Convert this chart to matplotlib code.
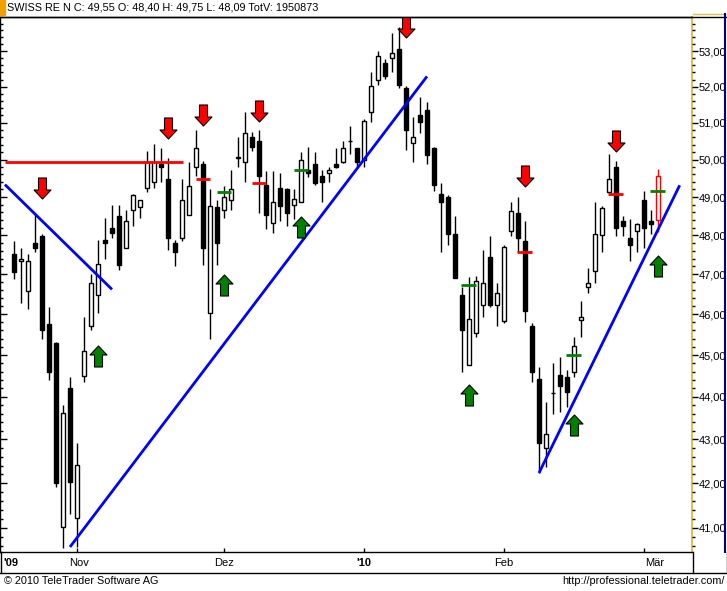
import numpy as np
import matplotlib
matplotlib.use('Agg')
import matplotlib.pyplot as plt
from matplotlib.path import Path
from matplotlib.ticker import MultipleLocator, FuncFormatter, NullFormatter
from matplotlib.lines import Line2D
from matplotlib.patches import Rectangle

plt.rcParams['font.family'] = ['Liberation Sans', 'DejaVu Sans']

# ---------------- data (daily OHLC, SWISS RE N, Oct 2009 - Mar 2010) ----------------
opens = [47.51, 47.33, 46.59, 47.81, 47.99, 45.77, 45.30, 41.02, 44.22, 41.22,
         44.50, 45.72, 46.47, 47.89, 48.20, 48.49, 47.68, 48.67, 48.73, 49.23,
         49.41, 49.87, 49.49, 47.81, 47.92, 48.54, 49.79, 49.89, 46.04, 48.73,
         48.65, 48.93, 50.03, 49.92, 50.60, 50.49, 49.31, 48.31, 49.25, 49.20,
         48.80, 48.88, 49.71, 49.87, 49.57, 49.65, 49.89, 49.92, 50.49, 50.30,
         50.00, 51.29, 52.18, 52.66, 52.80, 53.06, 51.95, 50.44, 51.20, 51.34,
         50.30, 49.09, 49.01, 48.04, 46.49, 44.77, 45.55, 46.24, 47.43, 46.24,
         45.84, 48.10, 48.59, 47.86, 45.72, 44.43, 42.81, 44.10, 44.53, 44.48,
         44.58, 45.87, 46.67, 47.09, 48.02, 49.12, 49.81, 48.38, 47.92, 48.12,
         48.91, 48.38, 48.40]
highs = [47.86, 47.68, 47.51, 48.54, 48.04, 46.19, 45.32, 43.81, 44.48, 42.92,
         45.94, 47.02, 47.89, 48.46, 48.78, 48.78, 48.67, 49.07, 48.93, 50.22,
         50.41, 50.30, 50.05, 47.89, 49.47, 49.92, 50.79, 49.95, 49.20, 48.93,
         49.28, 49.73, 50.60, 51.29, 50.76, 50.79, 49.68, 49.68, 49.65, 49.25,
         49.20, 50.19, 50.33, 50.19, 49.73, 49.81, 50.30, 50.49, 50.90, 50.32,
         51.09, 52.41, 53.00, 52.77, 53.54, 53.69, 52.01, 51.15, 51.70, 51.56,
         50.35, 49.36, 49.04, 48.49, 46.69, 46.94, 46.97, 47.63, 47.99, 46.79,
         47.74, 48.88, 49.01, 48.38, 45.79, 44.70, 43.88, 44.82, 44.96, 44.63,
         45.45, 46.34, 47.15, 48.86, 48.75, 50.16, 49.95, 48.49, 48.41, 48.33,
         49.17, 48.65, 49.75]
lows = [46.89, 46.29, 46.12, 47.56, 45.38, 44.41, 41.92, 40.56, 41.31, 40.58,
        44.34, 45.62, 46.04, 47.38, 47.92, 47.12, 47.66, 48.25, 48.44, 49.12,
        49.25, 49.41, 47.63, 47.22, 47.84, 48.52, 49.55, 47.25, 45.40, 47.25,
        48.46, 48.67, 49.79, 49.39, 50.22, 48.59, 48.15, 48.07, 48.38, 48.25,
        48.41, 48.86, 49.52, 49.33, 48.86, 49.39, 49.78, 49.90, 50.16, 49.79,
        49.81, 51.01, 52.04, 52.21, 52.41, 51.95, 50.27, 49.92, 50.71, 49.87,
        49.15, 47.58, 47.76, 46.90, 44.58, 44.75, 45.43, 45.92, 46.19, 45.70,
        45.79, 47.99, 47.58, 45.82, 44.36, 42.23, 42.37, 43.60, 43.65, 43.77,
        44.48, 45.45, 46.54, 46.77, 47.58, 49.10, 47.97, 47.97, 47.35, 47.58,
        47.68, 48.04, 48.09]
closes = [47.07, 47.40, 47.33, 47.66, 45.62, 44.58, 42.00, 43.62, 42.03, 42.42,
          45.11, 46.77, 47.27, 47.81, 48.07, 47.25, 48.38, 49.04, 48.93, 49.92,
          49.92, 49.79, 47.92, 47.56, 48.93, 49.28, 50.30, 47.66, 48.75, 47.79,
          49.01, 49.20, 50.08, 50.71, 50.33, 49.57, 48.52, 48.86, 48.75, 48.57,
          48.96, 50.00, 49.65, 49.36, 49.39, 49.71, 49.81, 50.30, 50.49, 49.92,
          51.06, 52.01, 52.86, 52.29, 52.94, 52.04, 50.79, 50.60, 51.01, 50.11,
          49.31, 48.86, 48.04, 46.92, 45.60, 45.89, 46.82, 46.79, 46.22, 46.52,
          47.71, 48.62, 47.92, 46.07, 44.58, 42.92, 43.13, 44.10, 44.26, 44.12,
          45.21, 45.92, 46.77, 48.04, 48.70, 49.49, 48.18, 48.23, 47.74, 48.28,
          48.18, 48.28, 49.55]

title_text = "SWISS RE N C: 49,55 O: 48,40 H: 49,75 L: 48,09 TotV: 1950873"
month_labels = ["'09", "Nov", "Dez", "'10", "Feb", "Mär"]
month_label_pos = [-0.4, 9.3, 30.0, 50.0, 70.0, 91.5]
month_tick_pos = [9, 30, 50, 70, 90]

# signals
sell_arrow_idx = [4, 22, 27, 35, 56, 73, 86]
sell_arrow_price = [49.25, 50.86, 51.21, 51.32, 53.69, 49.57, 50.49]
buy_arrow_idx = [12, 30, 41, 65, 80, 92]
buy_arrow_price = [44.98, 46.74, 48.21, 44.05, 43.33, 47.22]
red_dash_idx = [27, 35, 73, 86]
red_dash_price = [49.49, 49.36, 47.56, 49.09]
green_dash_idx = [30, 41, 65, 80, 92]
green_dash_price = [49.12, 49.73, 46.74, 44.99, 49.17]

# drawn lines (index0, price0, index1, price1)
resistance_line = (-1.3, 49.92, 24.1, 49.92)
trend_lines = [(-1.3, 49.33, 14.0, 46.62),
               (8.0, 40.58, 59.0, 52.29),
               (75.0, 42.23, 95.1, 49.31)]

# ---------------- figure ----------------
W, H = 727, 591
fig = plt.figure(figsize=(W / 100, H / 100), dpi=100)
fig.patch.set_facecolor('white')

def fx(x):
    return x / W

def fy(y):
    return 1 - y / H

PLOT_L, PLOT_R, PLOT_T, PLOT_B = 0, 692, 17, 552
ax = fig.add_axes([fx(PLOT_L), fy(PLOT_B), (PLOT_R - PLOT_L) / W, (PLOT_B - PLOT_T) / H])
ax.set_yscale('log')
ax.set_ylim(40.47, 53.99)
ax.set_xlim(-2.0, 96.86)
ax.set_facecolor('white')

n = len(opens)
x = np.arange(n)
o = np.array(opens); h = np.array(highs); l = np.array(lows); c = np.array(closes)

last = n - 1
wick_colors = ['black'] * n
wick_colors[last] = '#ff0000'
ax.vlines(x, l, h, colors=wick_colors, linewidth=1.0, zorder=2)

up = c >= o
bottoms = np.minimum(o, c)
heights = np.abs(c - o)
faces = ['white' if u else 'black' for u in up]
edges = ['black'] * n
edges[last] = '#ff0000'
ax.bar(x, heights, bottom=bottoms, width=0.6, color=faces, edgecolor=edges,
       linewidth=1.0, zorder=3)

# resistance line
ax.plot([resistance_line[0], resistance_line[2]], [resistance_line[1], resistance_line[3]],
        color='#ff0000', lw=2.0, zorder=4, solid_capstyle='butt')
for (a0, p0, a1, p1) in trend_lines:
    ax.plot([a0, a1], [p0, p1], color='#0000ff', lw=2.0, zorder=4, solid_capstyle='butt')

# dashes
ax.hlines(red_dash_price, np.array(red_dash_idx) - 1.07, np.array(red_dash_idx) + 1.07,
          colors='#ff0000', lw=2.0, zorder=5)
ax.hlines(green_dash_price, np.array(green_dash_idx) - 1.07, np.array(green_dash_idx) + 1.07,
          colors='#008000', lw=2.0, zorder=5)

# arrow markers
down_verts = [(-4, 10.5), (4, 10.5), (4, -1.5), (8.5, -1.5), (0, -10.5), (-8.5, -1.5),
              (-4, -1.5), (-4, 10.5)]
down_path = Path(down_verts, [Path.MOVETO] + [Path.LINETO] * 6 + [Path.CLOSEPOLY])
up_path = Path([(vx, -vy) for vx, vy in down_verts], [Path.MOVETO] + [Path.LINETO] * 6 + [Path.CLOSEPOLY])
ms = 21 * 72 / 100
ax.plot(sell_arrow_idx, sell_arrow_price, linestyle='none', marker=down_path, ms=ms,
        mfc='#ff0000', mec='black', mew=0.8, zorder=6)
ax.plot(buy_arrow_idx, buy_arrow_price, linestyle='none', marker=up_path, ms=ms,
        mfc='#008000', mec='black', mew=0.8, zorder=6)

# y axis ticks (left inside)
ax.yaxis.set_major_locator(MultipleLocator(1))
ax.yaxis.set_minor_locator(MultipleLocator(0.2))
ax.yaxis.set_major_formatter(NullFormatter())
ax.yaxis.set_minor_formatter(NullFormatter())
ax.tick_params(axis='y', which='major', direction='in', length=5, width=1, left=True, right=False)
ax.tick_params(axis='y', which='minor', direction='in', length=2, width=1, left=True, right=False)

# x ticks
ax.set_xticks(month_tick_pos)
ax.set_xticklabels([])
ax.tick_params(axis='x', which='major', direction='in', length=3, width=1, bottom=True, top=False)
ax.tick_params(axis='x', which='minor', bottom=False, top=False)

for lab, pos in zip(month_labels, month_label_pos):
    bold = lab.startswith("'")
    ax.text(pos, -0.021, lab, transform=ax.get_xaxis_transform(), ha='center', va='center',
            fontsize=8.0, fontweight='bold' if bold else 'normal', color='black', clip_on=False)

# right axis
ax2 = ax.twinx()
ax2.set_yscale('log')
ax2.set_ylim(ax.get_ylim())
ax2.yaxis.set_major_locator(MultipleLocator(1))
ax2.yaxis.set_minor_locator(MultipleLocator(0.2))
ax2.yaxis.set_major_formatter(FuncFormatter(lambda v, p: f"{v:.2f}".replace('.', ',')))
ax2.yaxis.set_minor_formatter(NullFormatter())
ax2.tick_params(axis='y', which='major', direction='out', length=4, width=1, pad=1,
                labelsize=8.0, right=True, left=False)
ax2.tick_params(axis='y', which='minor', direction='out', length=2, width=1, right=True, left=False)
for s in ax2.spines.values():
    s.set_visible(False)

for name in ('top', 'left', 'bottom'):
    ax.spines[name].set_color('black')
    ax.spines[name].set_linewidth(1.0)
ax.spines['right'].set_color('#e0c050')
ax.spines['right'].set_linewidth(1.5)

# frame elements in figure pixel space
def fline(x0, y0, x1, y1, color, lw=1.0, ls='-'):
    fig.add_artist(Line2D([fx(x0), fx(x1)], [fy(y0), fy(y1)], color=color, lw=lw, ls=ls))

fline(0, 16.5, 727, 16.5, 'black')
fline(693, 13.5, 725, 13.5, '#e0c050')
fline(725, 13.5, 725, 552, '#000080', lw=1.5)
fline(0, 573, 727, 573, 'black')
fline(693, 552, 693, 573, 'black')
fline(0.5, 552, 0.5, 573, 'black')
fline(726.5, 552, 726.5, 573, 'black')

# title bar
fig.add_artist(Rectangle((fx(0), fy(15)), fx(5), 15 / H, color='#f0a000', transform=fig.transFigure))
fig.text(fx(7), fy(8), title_text, ha='left', va='center', fontsize=7.8, color='black')

# footer
fig.text(fx(4), fy(581), "© 2010 TeleTrader Software AG", ha='left', va='center', fontsize=7.8)
fig.text(fx(725), fy(581), "http://professional.teletrader.com/", ha='right', va='center', fontsize=7.8)

fig.savefig('out.png', dpi=100, facecolor='white')
